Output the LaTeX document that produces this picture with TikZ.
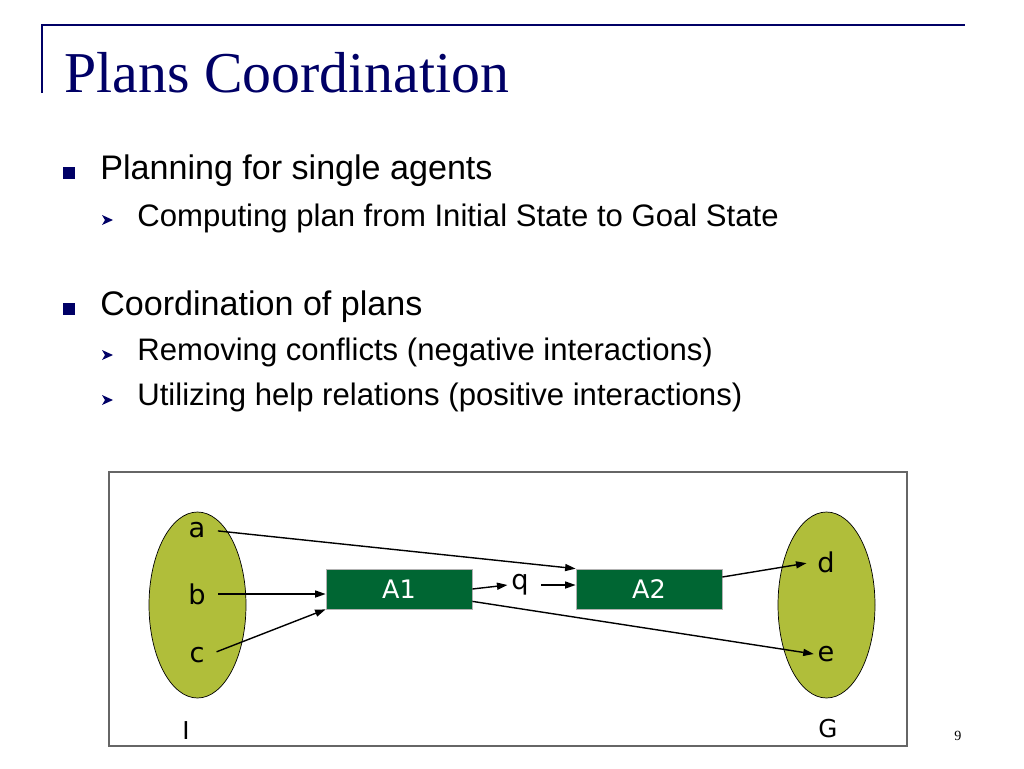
\documentclass[tikz,border=0pt]{standalone}
\usepackage{fontspec}
\setmainfont{Liberation Sans}
\newfontfamily\titlefont{Liberation Serif}
\newfontfamily\boxfont{DejaVu Sans}
\usetikzlibrary{arrows.meta,positioning,shapes.geometric}

\definecolor{navy}{RGB}{0,0,102}
\definecolor{olive}{RGB}{176,190,58}
\definecolor{actgreen}{RGB}{0,102,51}

\tikzset{
	item/.style={anchor=base west, inner sep=0pt, font=\fontsize{19.4}{23}\selectfont},
	subitem/.style={anchor=base west, inner sep=0pt, font=\fontsize{17.7}{21}\selectfont},
	stateset/.style={ellipse, draw, fill=olive, minimum width=97*0.02cm, minimum height=186*0.02cm},
	action/.style={draw=gray!60, fill=actgreen, text=white, minimum width=146*0.02cm, minimum height=40*0.02cm, font=\boxfont\fontsize{14.5}{17}\selectfont},
	fact/.style={inner sep=2pt, font=\boxfont\fontsize{15.5}{18}\selectfont},
	setname/.style={inner sep=0pt, font=\boxfont\fontsize{14}{17}\selectfont},
	link/.style={-{Triangle[length=6pt,width=4pt]}, thick},
}

\begin{document}
\begin{tikzpicture}[x=0.02cm, y=-0.02cm]
		\useasboundingbox (0,0) rectangle (1024,768);
		
		% title
		\draw[navy, line width=1.2pt] (42,93) -- (42,25) -- (965,25);
		\node[anchor=base west, inner sep=0pt, text=navy, font=\titlefont\fontsize{32.9}{38}\selectfont] (title) at (64,92) {Plans Coordination};
		
		% bullets
		\fill[navy] (63,167) rectangle (75,179);
		\fill[navy] (63,303) rectangle (75,315);
		\foreach \y in {220,355,400} {
			\fill[navy] (102,\y-5) -- (113,\y) -- (102,\y+5) -- (105,\y) -- cycle;
		}
		\node[item] (p1) at (100,179) {Planning for single agents};
		\node[subitem] (p11) at (137,226) {Computing plan from Initial State to Goal State};
		\node[item] (p2) at (100,315) {Coordination of plans};
		\node[subitem] (p21) at (137,360) {Removing conflicts (negative interactions)};
		\node[subitem] (p22) at (137,405) {Utilizing help relations (positive interactions)};
		
		% diagram
		\draw[gray!80!black, thick] (109,472) rectangle (907,746);
		
		\node[stateset] (I) at (197.5,605) {};
		\node[stateset] (G) at (826.5,605) {};
		
		\node[fact] (a) at (197,530) {a};
		\node[fact] (b) at (197,594) {b};
		\node[fact] (c) at (197,655) {c};
		\node[fact] (d) at (826,562) {d};
		\node[fact] (e) at (826,654) {e};
		
		\node[action] (A1) at (399,589) {A1};
		\node[action] (A2) at (649,589) {A2};
		\node[fact] (q) at (520,585) {q};
		
		\node[setname] (Iname) at (186,731) {I};
		\node[setname] (Gname) at (828,729) {G};
		
		\draw[link, shorten <=5pt] (a.east) -- (A2.north west);
		\draw[link, shorten <=5pt] (b.east) -- (b.east -| A1.west);
		\draw[link, shorten <=5pt] (c.east) -- (A1.south west);
		\draw[link] (A1.east) -- (q.west);
		\draw[link, shorten <=5pt] (q.east) -- (q.east -| A2.west);
		\draw[link] (A1.south east) ++(0,-8) coordinate (A1out) (A1out) -- (e.west);
		\draw[link, shorten >=4pt] (A2.east) ++(0,-12) coordinate (A2out) (A2out) -- (d.west);
		
		\node[anchor=base, inner sep=0pt, font=\titlefont\fontsize{8}{10}\selectfont] (page) at (958,740) {9};
		
	\end{tikzpicture}
\end{document}
